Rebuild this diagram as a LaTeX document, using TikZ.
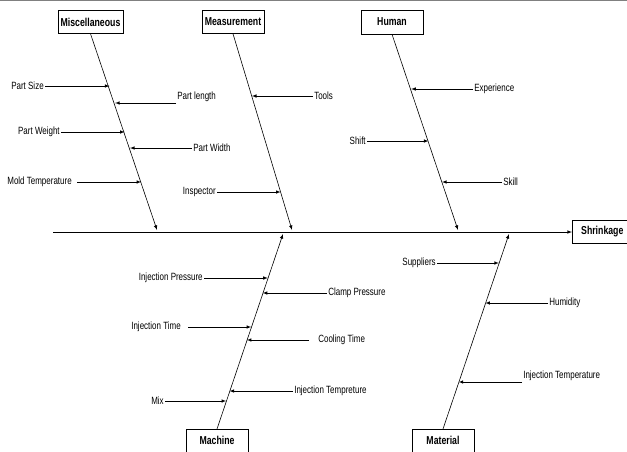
\documentclass[tikz,border=0pt]{standalone}
\usepackage{fontspec}
\setmainfont{Liberation Sans}[FakeStretch=0.76]
\usepackage{tikz}
\usetikzlibrary{arrows}

\tikzset{
  catbox/.style={draw, fill=white, font=\fontsize{11.5}{13}\selectfont\bfseries, minimum width=62pt, minimum height=23pt, inner sep=2pt},
  cause/.style={font=\fontsize{10.5}{12}\selectfont, inner sep=1pt},
  bone/.style={-latex},
  sub/.style={-latex}
}

\begin{document}
\begin{tikzpicture}[x=1pt, y=-1pt, line width=0.6pt]
          \useasboundingbox (0,0) rectangle (627,451);
          \clip (0,0) rectangle (627,451);
          \draw[gray, line width=1.2pt] (0,0) -- (627,0);
          % main spine and effect
          \node[catbox, minimum width=60pt, anchor=west] (shrink) at (572,231.5) {Shrinkage};
          \coordinate (tail) at (53,232);
          \draw[bone] (tail) -- (shrink.west |- tail);
          % categories
          \node[catbox, minimum width=65pt] (misc) at (90.5,22) {Miscellaneous};
          \node[catbox] (meas) at (233,22) {Measurement};
          \node[catbox, minimum height=24pt] (human) at (392,22) {Human};
          \node[catbox, anchor=north] (mach) at (217,429) {Machine};
          \node[catbox, anchor=north] (mat) at (443,429) {Material};
          \coordinate (miscend) at (157,230);
          \coordinate (measend) at (292,230);
          \coordinate (humanend) at (458,230);
          \coordinate (machend) at (283,234);
          \coordinate (matend) at (509,234);
          \draw[bone] (misc.south) -- (miscend);
          \draw[bone] (meas.south) -- (measend);
          \draw[bone] (human.south) -- (humanend);
          \draw[bone] (mach.north) -- (machend);
          \draw[bone] (mat.north) -- (matend);
          % Miscellaneous
          \node[cause, anchor=east] (psize) at (45,86) {Part Size};
          \coordinate (psizet) at (109.5,86);
          \draw[sub] (psize.east) -- (psizet);
          \node[cause, anchor=south west] (plen) at (176,103) {Part length};
          \coordinate (plent) at (115.1,103);
          \draw[sub] (plen.south west) -- (plent);
          \node[cause, anchor=east] (pweight) at (61,132) {Part Weight};
          \coordinate (pweightt) at (124.7,132);
          \draw[sub] (pweight.east) -- (pweightt);
          \node[cause, anchor=west] (pwidth) at (192,148) {Part Width};
          \coordinate (pwidtht) at (130,148);
          \draw[sub] (pwidth.west) -- (pwidtht);
          \node[cause, anchor=east] (mold) at (73,182) {Mold Temperature};
          \coordinate (moldt) at (141.2,182);
          \draw[sub] ([xshift=4pt]mold.east) -- (moldt);
          % Measurement
          \node[cause, anchor=west] (tools) at (313,96) {Tools};
          \coordinate (toolst) at (251.9,96);
          \draw[sub] (tools.west) -- (toolst);
          \node[cause, anchor=east] (insp) at (217,192) {Inspector};
          \coordinate (inspt) at (280.6,192);
          \draw[sub] (insp.east) -- (inspt);
          % Human
          \node[cause, anchor=west] (exp) at (473,89) {Experience};
          \coordinate (expt) at (411.2,89);
          \draw[sub] (exp.west) -- (expt);
          \node[cause, anchor=east] (shift) at (367,141) {Shift};
          \coordinate (shiftt) at (428.5,141);
          \draw[sub] (shift.east) -- (shiftt);
          \node[cause, anchor=west] (skill) at (502,182) {Skill};
          \coordinate (skillt) at (442,182);
          \draw[sub] (skill.west) -- (skillt);
          % Machine
          \node[cause, anchor=east] (ipress) at (204,278) {Injection Pressure};
          \coordinate (ipresst) at (267.8,278);
          \draw[sub] (ipress.east) -- (ipresst);
          \node[cause, anchor=west] (cpress) at (327,293) {Clamp Pressure};
          \coordinate (cpresst) at (262.7,293);
          \draw[sub] (cpress.west) -- (cpresst);
          \node[cause, anchor=east] (itime) at (182,327) {Injection Time};
          \coordinate (itimet) at (251.2,327);
          \draw[sub] ([xshift=6pt]itime.east) -- (itimet);
          \node[cause, anchor=west] (cool) at (317,340) {Cooling Time};
          \coordinate (coolt) at (246.8,340);
          \draw[sub] ([xshift=-8pt]cool.west) -- (coolt);
          \node[cause, anchor=west] (itemp) at (293,391) {Injection Tempreture};
          \coordinate (itempt) at (229.5,391);
          \draw[sub] (itemp.west) -- (itempt);
          \node[cause, anchor=east] (mix) at (165,401) {Mix};
          \coordinate (mixt) at (226.1,401);
          \draw[sub] (mix.east) -- (mixt);
          % Material
          \node[cause, anchor=east] (supp) at (437,263) {Suppliers};
          \coordinate (suppt) at (498.9,263);
          \draw[sub] (supp.east) -- (suppt);
          \node[cause, anchor=west] (hum) at (548,303) {Humidity};
          \coordinate (humt) at (485.3,303);
          \draw[sub] (hum.west) -- (humt);
          \node[cause, anchor=south west] (mtemp) at (522,382) {Injection Temperature};
          \coordinate (mtempt) at (458.6,382);
          \draw[sub] (mtemp.south west) -- (mtempt);
      \end{tikzpicture}
\end{document}
